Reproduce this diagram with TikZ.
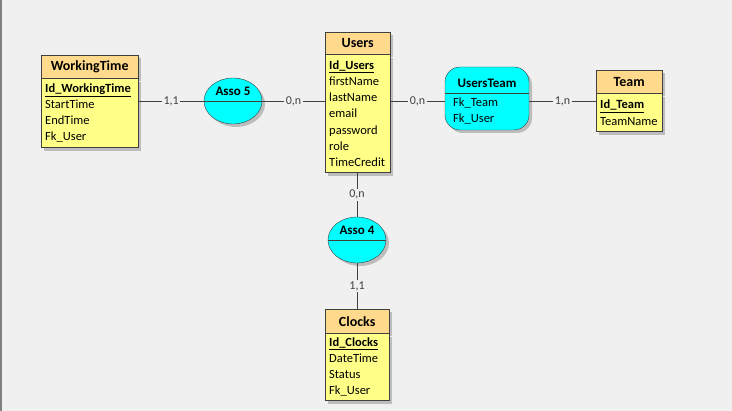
\documentclass[tikz,border=0pt]{standalone}
\usepackage{fontspec}
\setmainfont{Carlito}
\usetikzlibrary{positioning, shapes.geometric, shadows}
\definecolor{bggray}{HTML}{F0F0F0}
\definecolor{hdrfill}{HTML}{FFD98C}
\definecolor{bodyfill}{HTML}{FFFF88}
\definecolor{assofill}{HTML}{00FFFF}
\definecolor{linegray}{HTML}{404040}
\def\titlefont{\bfseries\fontsize{14}{16}\selectfont}
\def\fieldfont{\fontsize{12.5}{16.2}\selectfont}
\def\pk#1{\underline{\textbf{#1}}}
\tikzset{
  shade3/.style={drop shadow={shadow xshift=3pt, shadow yshift=-3pt, fill=black!45, opacity=.5}},
  ent/.style={draw=linegray, fill=hdrfill, font=\titlefont, inner sep=0pt, minimum height=23pt, anchor=north west, shade3},
  fields/.style={draw=linegray, fill=bodyfill, font=\fieldfont, align=left, inner xsep=4pt, inner ysep=0pt, shade3},
  asso/.style={ellipse, draw=linegray, fill=assofill, minimum width=58pt, minimum height=46pt, inner sep=0pt, shade3},
  assotitle/.style={font=\bfseries\fontsize{13}{15}\selectfont, inner sep=0pt},
  card/.style={fill=bggray, text=linegray, font=\fontsize{12}{14}\selectfont, inner sep=1.5pt},
  conn/.style={draw=linegray, line width=0.8pt}
}

\begin{document}
\begin{tikzpicture}[x=1pt, y=-1pt]
  \fill[bggray] (0,0) rectangle (732,411);
  \useasboundingbox (0,0) rectangle (732,411);
  \draw[gray, line width=1.5pt] (1,0) -- (1,411);

  % entities
  \node[ent, minimum width=97pt] (wt) at (41,55) {WorkingTime};
  \node[fields, text width=89pt, minimum height=69pt, below=0pt of wt] (wtbody)
    {\pk{Id\_WorkingTime}\\StartTime\\EndTime\\Fk\_User};

  \node[ent, minimum width=65pt, minimum height=22pt] (us) at (325,32) {Users};
  \node[fields, text width=57pt, minimum height=118pt, below=0pt of us] (usbody)
    {\pk{Id\_Users}\\firstName\\lastName\\email\\password\\role\\TimeCredit};

  \node[ent, minimum width=66pt] (tm) at (596,70) {Team};
  \node[fields, text width=58pt, minimum height=38pt, below=0pt of tm] (tmbody)
    {\pk{Id\_Team}\\TeamName};

  \node[ent, minimum width=64pt, minimum height=24pt] (clk) at (325,309) {Clocks};
  \node[fields, text width=56pt, minimum height=67pt, below=0pt of clk] (clkbody)
    {\pk{Id\_Clocks}\\DateTime\\Status\\Fk\_User};

  % associations
  \node[asso] (a5) at (233,101) {};
  \draw[linegray] (a5.west) -- (a5.east);
  \node[assotitle, yshift=10pt] (a5t) at (a5.center) {Asso 5};

  \node[asso] (a4) at (357,240) {};
  \draw[linegray] (a4.west) -- (a4.east);
  \node[assotitle, yshift=10pt] (a4t) at (a4.center) {Asso 4};

  \node[draw=linegray, fill=assofill, rounded corners=15pt, minimum width=84pt, minimum height=63pt, shade3] (ut) at (487,98.5) {};
  \draw[linegray] (ut.west |- 0,93) -- (ut.east |- 0,93);
  \node[assotitle] (utt) at (487,83) {UsersTeam};
  \node[font=\fieldfont, align=left, anchor=west, inner sep=0pt] (utf) at (453,111) {Fk\_Team\\Fk\_User};

  % links
  \draw[conn] (wtbody.east |- a5.west) -- node[card] {1,1} (a5.west);
  \draw[conn] (a5.east) -- node[card] {0,n} (usbody.west |- a5.east);
  \draw[conn] (usbody.east |- a5.east) -- node[card] {0,n} (ut.west |- a5.east);
  \draw[conn] (ut.east |- a5.east) -- node[card] {1,n} (tmbody.west |- a5.east);
  \draw[conn] (usbody.south -| a4.north) -- node[card] {0,n} (a4.north);
  \draw[conn] (a4.south) -- node[card] {1,1} (clk.north -| a4.south);
\end{tikzpicture}
\end{document}
